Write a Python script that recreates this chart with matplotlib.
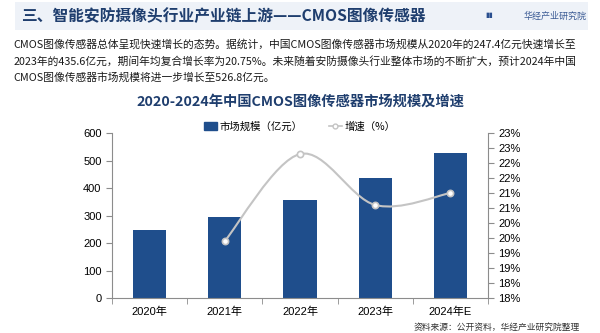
import numpy as np
import matplotlib.pyplot as plt
from matplotlib.path import Path
from matplotlib.patches import PathPatch, Rectangle
from matplotlib.lines import Line2D

plt.rcParams['font.family'] = ['Liberation Sans', 'Noto Sans CJK SC', 'DejaVu Sans']

# data
years = ['2020年', '2021年', '2022年', '2023年', '2024年E']
market = [247.4, 295.0, 358.0, 435.6, 526.8]
growth_years = [1, 2, 3, 4]
growth = [19.4, 22.3, 20.6, 21.0]
left_ticks = [0, 100, 200, 300, 400, 500, 600]
right_ticks = [17.5, 18.0, 18.5, 19.0, 19.5, 20.0, 20.5, 21.0, 21.5, 22.0, 22.5, 23.0]
right_labels = ['18%', '18%', '19%', '19%', '20%', '20%', '21%', '21%', '22%', '22%', '23%', '23%']

blue = '#1F4E8C'
dark = '#1F3E6E'
gray = '#C4C4C4'
axis_gray = '#8C8C8C'

fig = plt.figure(figsize=(6, 3.33), dpi=100)

# header band
fig.patches.append(Rectangle((0.025, 0.91), 0.955, 0.085, transform=fig.transFigure,
                             facecolor='#EEF2F8', edgecolor='none', zorder=0))
fig.text(0.035, 0.952, '三、智能安防摄像头行业产业链上游——CMOS图像传感器', fontsize=11.3,
         fontweight='bold', color=dark, va='center', family=['Noto Sans CJK SC'])
fig.text(0.978, 0.952, '华经产业研究院', fontsize=6.5, color='#3A5A94', ha='right', va='center',
         family=['Noto Sans CJK SC'])
fig.text(0.822, 0.952, '▮▮', fontsize=5, color='#2A4F8F', ha='right', va='center')

para = ['CMOS图像传感器总体呈现快速增长的态势。据统计，中国CMOS图像传感器市场规模从2020年的247.4亿元快速增长至',
        '2023年的435.6亿元，期间年均复合增长率为20.75%。未来随着安防摄像头行业整体市场的不断扩大，预计2024年中国',
        'CMOS图像传感器市场规模将进一步增长至526.8亿元。']
for i, line in enumerate(para):
    fig.text(0.023, 0.868 - i * 0.051, line, fontsize=7.75, color='#1A1A1A', va='center',
             family=['Noto Sans CJK SC'])

fig.text(0.5, 0.694, '2020-2024年中国CMOS图像传感器市场规模及增速', fontsize=10.3,
         fontweight='bold', color=dark, ha='center', va='center', family=['Noto Sans CJK SC'])

ax = fig.add_axes([0.1867, 0.1051, 0.6267, 0.4955])
x = np.arange(len(years))
ax.bar(x, market, width=0.44, color=blue, zorder=2)
ax.set_xlim(-0.5, len(years) - 0.5)
ax.set_ylim(0, 600)
ax.set_yticks(left_ticks)
ax.set_xticks(x)
ax.set_xticklabels(years)
ax.set_xticks(np.arange(-0.5, len(years), 1.0), minor=True)
ax.tick_params(axis='x', which='major', length=0, labelsize=8, pad=6)
ax.tick_params(axis='x', which='minor', length=4, color=axis_gray)
ax.tick_params(axis='y', length=4, color=axis_gray, labelsize=8)
for s in ['top', 'right']:
    ax.spines[s].set_visible(False)
for s in ['left', 'bottom']:
    ax.spines[s].set_color(axis_gray)

ax2 = ax.twinx()
ax2.set_ylim(17.5, 23.0)
ax2.set_yticks(right_ticks)
ax2.set_yticklabels(right_labels)
ax2.tick_params(axis='y', length=4, color=axis_gray, labelsize=8)
for s in ['top', 'left', 'bottom']:
    ax2.spines[s].set_visible(False)
ax2.spines['right'].set_color(axis_gray)

# smoothed growth line (Catmull-Rom as Bezier path)
pts = np.column_stack([growth_years, growth]).astype(float)
ext = np.vstack([pts[0], pts, pts[-1]])
verts = [tuple(pts[0])]
codes = [Path.MOVETO]
for i in range(len(pts) - 1):
    p0, p1, p2, p3 = ext[i], ext[i + 1], ext[i + 2], ext[i + 3]
    c1 = p1 + (p2 - p0) / 6
    c2 = p2 - (p3 - p1) / 6
    verts += [tuple(c1), tuple(c2), tuple(p2)]
    codes += [Path.CURVE4] * 3
ax2.add_patch(PathPatch(Path(verts, codes), facecolor='none', edgecolor=gray, lw=1.5, zorder=3))
ax2.plot(growth_years, growth, linestyle='none', marker='o', markersize=4.5,
         markerfacecolor='white', markeredgecolor=gray, markeredgewidth=1.2, zorder=4)

handles = [Rectangle((0, 0), 1, 1, color=blue),
           Line2D([], [], color=gray, lw=1.2, marker='o', markersize=3.5,
                  markerfacecolor='white', markeredgecolor=gray)]
fig.legend(handles, ['市场规模（亿元）', '增速（%）'], loc='center', bbox_to_anchor=(0.5, 0.62),
           ncol=2, frameon=False, handlelength=1.2, handleheight=0.7,
           handletextpad=0.3, columnspacing=2.5, prop={'family': ['Noto Sans CJK SC'], 'size': 7.5})

fig.text(0.967, 0.018, '资料来源：公开资料，华经产业研究院整理', fontsize=6.3, color='#333333',
         ha='right', va='center', family=['Noto Sans CJK SC'])

fig.savefig('out.png', dpi=100)
